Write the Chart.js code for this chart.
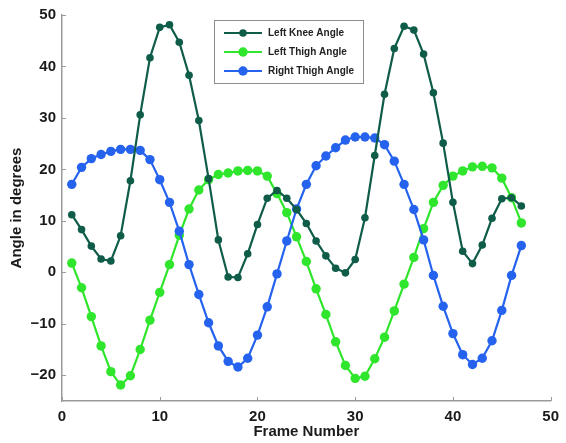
<!DOCTYPE html>
<html><head><meta charset="utf-8">
<script src="https://cdn.jsdelivr.net/npm/chart.js@4/dist/chart.umd.min.js"></script>
<style>html,body{margin:0;padding:0;background:#fff;overflow:hidden}</style>
</head><body>
<canvas id="c" width="566" height="443"></canvas>
<script>
const frames = [1,2,3,4,5,6,7,8,9,10,11,12,13,14,15,16,17,18,19,20,21,22,23,24,25,26,27,28,29,30,31,32,33,34,35,36,37,38,39,40,41,42,43,44,45,46,47];
const leftKnee = [11.2,8.3,5.1,2.6,2.2,7.1,17.8,30.6,41.7,47.6,48.1,44.7,38.3,29.5,18.2,6.3,-0.9,-1.0,3.6,9.3,14.4,15.9,14.4,12.2,9.5,6.1,3.2,0.8,-0.1,2.5,10.6,22.7,34.6,43.5,47.8,47.1,42.4,34.9,25.1,13.6,4.1,1.7,5.3,10.5,14.3,14.5,12.9];
const leftThigh = [1.8,-3.0,-8.6,-14.3,-19.3,-21.9,-20.1,-15.0,-9.3,-3.9,1.5,7.2,12.3,16.0,18.0,19.0,19.3,19.7,19.8,19.7,18.7,15.3,11.6,6.9,2.1,-3.2,-8.2,-13.5,-18.1,-20.6,-20.2,-16.8,-12.6,-7.5,-2.3,2.9,8.5,13.6,16.9,18.7,19.7,20.5,20.6,20.3,18.3,14.5,9.6];
const rightThigh = [17.1,20.4,22.1,22.9,23.5,23.9,23.9,23.7,21.9,18.0,13.6,8.0,1.5,-4.3,-9.8,-14.3,-17.3,-18.4,-16.7,-12.2,-6.7,-0.3,6.1,12.3,17.1,20.7,22.6,24.2,25.7,26.3,26.3,26.1,24.8,21.6,17.1,12.2,6.3,-0.6,-6.6,-11.9,-16.0,-17.9,-16.7,-13.3,-7.4,-0.6,5.2];
const seriesLabels = ['Left Knee Angle','Left Thigh Angle','Right Thigh Angle'];
const xTicks = [0,10,20,30,40,50];
const yTicks = [-20,-10,0,10,20,30,40,50];
const xTitle = 'Frame Number';
const yTitle = 'Angle in degrees';

const colors = ['#0f5c49', '#2fe62c', '#2563ee'];
const series = [leftKnee, leftThigh, rightThigh];
const radii = [3.8, 4.7, 4.7];
const orders = [1, 3, 2];

const datasets = series.map((vals, i) => ({
  label: seriesLabels[i],
  data: frames.map((f, j) => ({x: f, y: vals[j]})),
  borderColor: colors[i],
  backgroundColor: colors[i],
  pointBackgroundColor: colors[i],
  pointBorderColor: colors[i],
  pointRadius: radii[i],
  pointBorderWidth: 0,
  borderWidth: 2.2,
  tension: 0,
  order: orders[i]
}));

const FONT = '"Liberation Sans", Arial, Helvetica, sans-serif';

const inwardTicks = {
  id: 'inwardTicks',
  afterDraw(chart) {
    const ctx = chart.ctx;
    const xs = chart.scales.x, ys = chart.scales.y;
    const ca = chart.chartArea;
    ctx.save();
    ctx.strokeStyle = '#9a9a9a';
    ctx.lineWidth = 1;
    xTicks.forEach(v => {
      const px = Math.round(xs.getPixelForValue(v)) + 0.5;
      ctx.beginPath(); ctx.moveTo(px, ca.bottom); ctx.lineTo(px, ca.bottom - 4); ctx.stroke();
    });
    yTicks.forEach(v => {
      const py = Math.round(ys.getPixelForValue(v)) + 0.5;
      ctx.beginPath(); ctx.moveTo(ca.left, py); ctx.lineTo(ca.left + 4, py); ctx.stroke();
    });
    ctx.restore();
  }
};

const boxLegend = {
  id: 'boxLegend',
  afterDraw(chart) {
    const ctx = chart.ctx;
    const bx = 214, by = 20, bw = 149, bh = 63;
    ctx.save();
    ctx.fillStyle = '#ffffff';
    ctx.fillRect(bx, by, bw, bh);
    ctx.strokeStyle = '#8c8c8c';
    ctx.lineWidth = 1;
    ctx.strokeRect(bx + 0.5, by + 0.5, bw, bh);
    ctx.font = 'bold 10px ' + FONT;
    ctx.textBaseline = 'middle';
    chart.data.datasets.forEach((ds, i) => {
      const ry = 33 + i * 19;
      ctx.strokeStyle = ds.borderColor;
      ctx.lineWidth = 2.2;
      ctx.beginPath(); ctx.moveTo(224, ry); ctx.lineTo(262, ry); ctx.stroke();
      ctx.fillStyle = ds.borderColor;
      ctx.beginPath(); ctx.arc(243, ry, ds.pointRadius, 0, Math.PI * 2); ctx.fill();
      ctx.fillStyle = '#222';
      ctx.fillText(ds.label, 268, ry + 0.5);
    });
    ctx.restore();
  }
};

new Chart(document.getElementById('c'), {
  type: 'line',
  data: { datasets },
  options: {
    responsive: false,
    animation: false,
    devicePixelRatio: 1,
    layout: { padding: { top: 11, right: 8, left: 0, bottom: 0 } },
    plugins: { legend: { display: false }, tooltip: { enabled: false } },
    scales: {
      x: {
        type: 'linear', min: 0, max: 50,
        afterBuildTicks: s => { s.ticks = xTicks.map(v => ({value: v})); },
        afterFit: s => { s.height = 42; },
        grid: { display: true, drawOnChartArea: false, drawTicks: false },
        border: { display: true, color: '#9a9a9a', width: 1.5 },
        ticks: { font: { family: FONT, size: 15, weight: 'bold' }, color: '#1a1a1a', padding: 7, maxRotation: 0 },
        title: { display: true, text: xTitle, font: { family: FONT, size: 15, weight: 'bold' }, color: '#1a1a1a', padding: { top: 0, bottom: 2 } }
      },
      y: {
        type: 'linear', min: -25, max: 50,
        afterBuildTicks: s => { s.ticks = yTicks.map(v => ({value: v})); },
        afterFit: s => { s.width = 62; },
        grid: { display: true, drawOnChartArea: false, drawTicks: false },
        border: { display: true, color: '#9a9a9a', width: 1.5 },
        ticks: { font: { family: FONT, size: 15, weight: 'bold' }, color: '#1a1a1a', padding: 6,
          callback: v => (v < 0 ? '\u2212' + Math.abs(v) : String(v)) },
        title: { display: true, text: yTitle, font: { family: FONT, size: 15, weight: 'bold' }, color: '#1a1a1a', padding: { top: 8, bottom: 0 } }
      }
    }
  },
  plugins: [inwardTicks, boxLegend]
});
</script>
</body></html>
